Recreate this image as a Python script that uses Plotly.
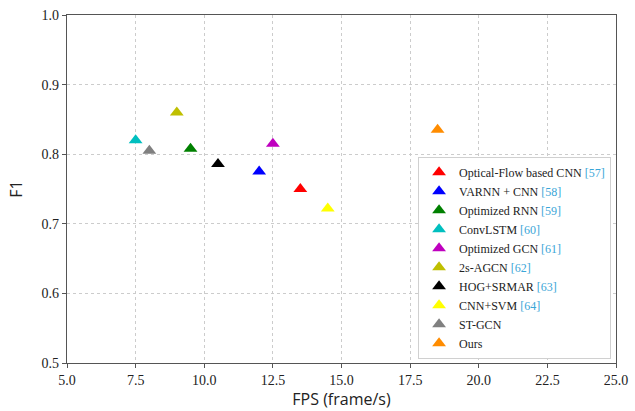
import plotly.graph_objects as go

methods = ["Optical-Flow based CNN", "VARNN + CNN", "Optimized RNN", "ConvLSTM",
           "Optimized GCN", "2s-AGCN", "HOG+SRMAR", "CNN+SVM", "ST-GCN", "Ours"]
refs = ["[57]", "[58]", "[59]", "[60]", "[61]", "[62]", "[63]", "[64]", "", ""]
fps = [13.5, 12.0, 9.5, 7.5, 12.5, 9.0, 10.5, 14.5, 8.0, 18.5]
f1 = [0.75, 0.775, 0.808, 0.82, 0.815, 0.86, 0.786, 0.722, 0.805, 0.835]
colors = ["#ff0000", "#0000ff", "#008000", "#00bfbf", "#bf00bf", "#bfbf00",
          "#000000", "#ffff00", "#808080", "#ff8c00"]
x_ticks = [5.0, 7.5, 10.0, 12.5, 15.0, 17.5, 20.0, 22.5, 25.0]
y_ticks = [0.5, 0.6, 0.7, 0.8, 0.9, 1.0]

fig = go.Figure()
for m, r, x, y, c in zip(methods, refs, fps, f1, colors):
    name = m + (f" <span style='color:#3aa6d8'>{r}</span>" if r else "")
    fig.add_trace(go.Scatter(x=[x], y=[y], mode="markers", name=name,
                             marker=dict(symbol="triangle-up", size=12, color=c,
                                         line=dict(width=0))))

axis_common = dict(showline=True, linecolor="#555", linewidth=1.2, mirror=True,
                   ticks="outside", ticklen=4, tickcolor="#555", automargin=False,
                   showgrid=True, gridcolor="#cccccc", griddash="dot", gridwidth=1,
                   zeroline=False, tickfont=dict(family="Liberation Serif", size=14, color="#222"))
fig.update_xaxes(range=[5, 25], tickvals=x_ticks, ticktext=[f"{v:.1f}" for v in x_ticks],
                 title=dict(text="FPS (frame/s)", font=dict(family="Open Sans", size=16, color="#222"), standoff=6),
                 **axis_common)
fig.update_yaxes(range=[0.5, 1.0], tickvals=y_ticks, ticktext=[f"{v:.1f}" for v in y_ticks],
                 title=dict(text="F1", font=dict(family="Open Sans", size=16, color="#222"), standoff=14),
                 **axis_common)
fig.update_layout(width=635, height=411, margin=dict(l=67, r=19, t=15, b=48),
                  plot_bgcolor="white", paper_bgcolor="white",
                  legend=dict(x=0.991, y=0.012, xanchor="right", yanchor="bottom",
                              bgcolor="white", bordercolor="#d0d0d0", borderwidth=1,
                              font=dict(family="Liberation Serif", size=12, color="#222"),
                              tracegroupgap=0, itemsizing="constant"))
fig.write_html("out.html", config={"displayModeBar": False},
               post_script="document.body.style.margin='0';document.body.style.overflow='hidden';")
